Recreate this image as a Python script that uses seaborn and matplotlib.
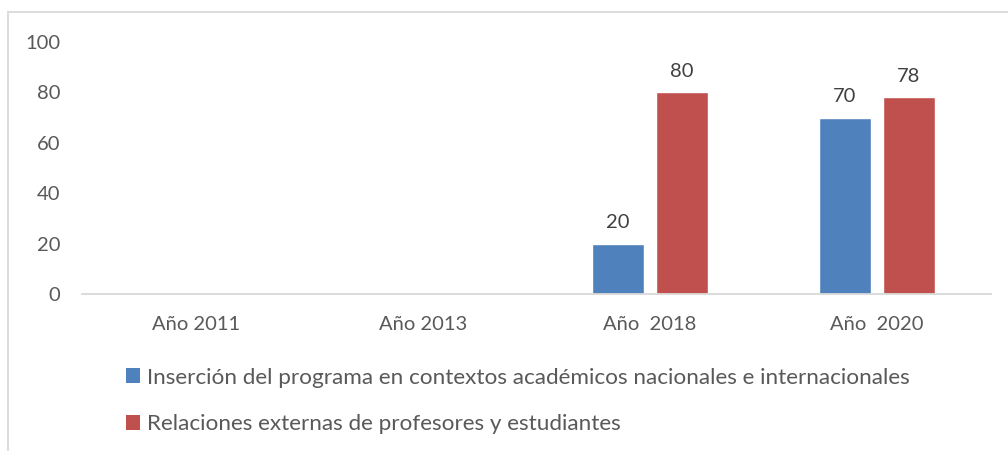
import matplotlib
matplotlib.use("Agg")
import matplotlib.pyplot as plt
from matplotlib.patches import Rectangle, Patch
import seaborn as sns
import pandas as pd

# datos
anios = ["Año 2011", "Año 2013", "Año  2018", "Año  2020"]
insercion = [0, 0, 20, 70]
relaciones = [0, 0, 80, 78]
series = ["Inserción del programa en contextos académicos nacionales e internacionales",
          "Relaciones externas de profesores y estudiantes"]
colores = ["#4F81BD", "#C0504D"]

df = pd.DataFrame({
    "anio": anios * 2,
    "valor": insercion + relaciones,
    "serie": [series[0]] * len(anios) + [series[1]] * len(anios),
})

sns.set_style("white")
plt.rcParams["font.family"] = ["Lato", "DejaVu Sans"]
gris = "#595959"

W, H = 1008, 451
fig = plt.figure(figsize=(W / 100, H / 100), dpi=100)
ax = fig.add_axes([82.5 / W, (H - 294) / H, (990.5 - 82.5) / W, (294 - 42) / H])

sns.barplot(data=df, x="anio", y="valor", hue="serie", palette=colores,
            width=0.564, gap=0.2, ax=ax, legend=False, saturation=1)

for cont in ax.containers:
    etiquetas = [f"{v:g}" if v > 0 else "" for v in cont.datavalues]
    ax.bar_label(cont, labels=etiquetas, padding=9, fontsize=14.5, color="#404040")

ax.set_ylim(0, 100)
ax.set_xlim(-0.5, 3.5)
ax.set_yticks([0, 20, 40, 60, 80, 100])
ax.set_xlabel("")
ax.set_ylabel("")
for s in ["top", "right", "left"]:
    ax.spines[s].set_visible(False)
ax.spines["bottom"].set_color("#d9d9d9")
ax.spines["bottom"].set_linewidth(1.3)
ax.tick_params(axis="both", length=0, labelsize=14.5, colors=gris)
ax.tick_params(axis="x", pad=16)
ax.tick_params(axis="y", pad=16)

# marco del gráfico
fig.add_artist(Rectangle((8 / W, -0.2), 1.5, 1 - 12 / H + 0.2, transform=fig.transFigure,
                         fill=False, edgecolor="#d9d9d9", linewidth=1.3))

handles = [Patch(facecolor=c, edgecolor="none") for c in colores]
fig.legend(handles, series, loc="center left",
           bbox_to_anchor=(126 / W, 1 - 401 / H), frameon=False,
           fontsize=16.2, labelcolor=gris, handlelength=0.62, handleheight=0.62,
           handletextpad=0.3, labelspacing=1.2, borderpad=0, borderaxespad=0)

fig.savefig("out.png", dpi=100)
